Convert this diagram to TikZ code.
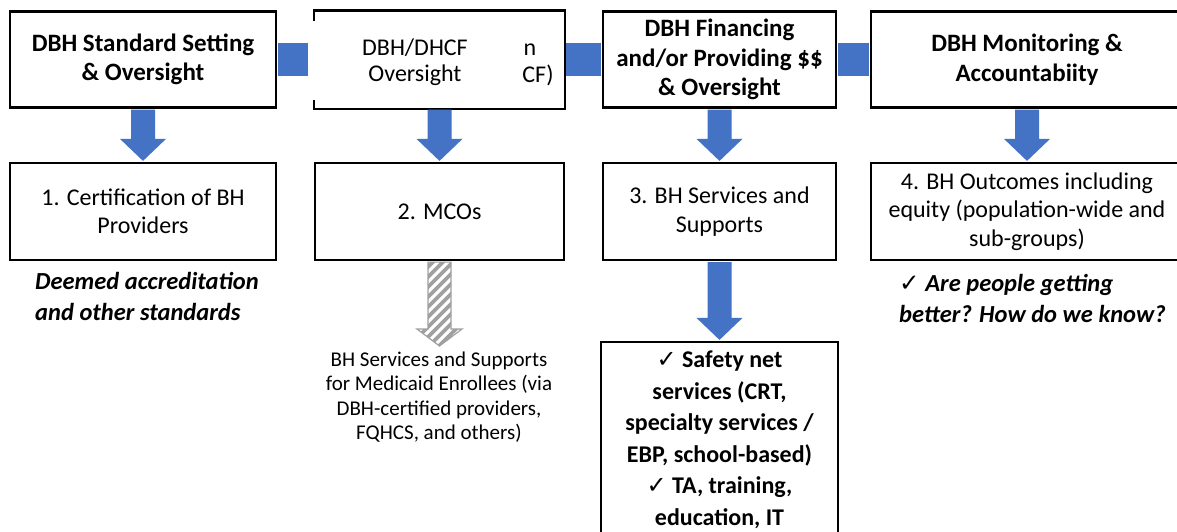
\documentclass[tikz,border=0pt]{standalone}
\usepackage{fontspec}
\setmainfont{Carlito}
\newfontfamily\dejavu{DejaVu Sans}
\usetikzlibrary{calc}
\definecolor{dbhblue}{RGB}{68,114,196}
\definecolor{hatchgray}{RGB}{160,160,160}
\newcommand{\chk}{{\dejavu ✓}}
\newcommand{\barrow}[2]{%
  \fill[dbhblue] let \p1=(#1),\p2=(#2) in
    (\x1-12pt,\y1-1pt) -- (\x1+12pt,\y1-1pt) -- (\x1+12pt,\y2+23pt) --
    (\x1+23pt,\y2+23pt) -- (\x1,\y2+1pt) -- (\x1-23pt,\y2+23pt) --
    (\x1-12pt,\y2+23pt) -- cycle;}
\newcommand{\harrowpath}[2]{let \p1=(#1),\p2=(#2) in
    (\x1-11.5pt,\y1-1pt) -- (\x1+11.5pt,\y1-1pt) -- (\x1+11.5pt,\y2+17pt) --
    (\x1+22.5pt,\y2+17pt) -- (\x1,\y2) -- (\x1-22.5pt,\y2+17pt) --
    (\x1-11.5pt,\y2+17pt) -- cycle}
\begin{document}
\begin{tikzpicture}[x=1pt,y=-1pt,
  box/.style={draw=black, line width=2.2pt, fill=white, inner sep=0pt,
    align=center, text=black},
  topbox/.style={box, minimum height=96pt, font=\fontsize{25}{29.5}\selectfont\bfseries},
  lowbox/.style={box, minimum height=97pt, font=\fontsize{24}{28.5}\selectfont},
  note/.style={inner sep=0pt, align=left, font=\fontsize{24.5}{31}\selectfont\bfseries\itshape},
  link/.style={dbhblue, line width=33pt, shorten <=1pt, shorten >=1pt}]
\useasboundingbox (0,0) rectangle (1177,531);
\fill[white] (0,0) rectangle (1177,531);

% top row
\node[topbox, minimum width=266pt] (A) at (143,59.5) {DBH Standard Setting\\\& Oversight};
\node[topbox, draw=none, minimum width=249pt] (B) at (439.5,59.5) {};
\node[topbox, minimum width=233pt] (C) at (719.5,59.5) {DBH Financing\\and/or Providing \$\$\\\& Oversight};
\node[topbox, minimum width=312pt] (D) at (1027,59.5) {DBH Monitoring \&\\Accountabiity};
\draw[line width=2.2pt] ($(B.north west)+(0,11)$) -- (B.north west) -- (B.north east)
  -- (B.south east) -- (B.south west) -- ($(B.south west)+(0,-9)$);
\node[inner sep=0pt, align=center, font=\fontsize{24}{26}\selectfont] (Btext) at (415,62) {DBH/DHCF\\Oversight};
\node[inner sep=0pt, font=\fontsize{24}{26}\selectfont] (Bn) at (530,50) {n};
\node[inner sep=0pt, font=\fontsize{24}{26}\selectfont] (Bcf) at (538,75) {CF)};

% horizontal links
\draw[link, shorten >=6pt] (A.east) -- (B.west);
\draw[link] (B.east) -- (C.west);
\draw[link] (C.east) -- (D.west);

% second row
\node[lowbox, minimum width=266pt] (one) at (143,211.5) {1. Certification of BH\\Providers};
\node[lowbox, minimum width=249pt] (two) at (439.5,211.5) {2. MCOs};
\node[lowbox, minimum width=233pt] (three) at (719.5,211.5) {3. BH Services and\\Supports};
\node[lowbox, minimum width=312pt] (four) at (1027,211.5) {4. BH Outcomes including\\equity (population-wide and\\sub-groups)};

% arrows down
\barrow{A.south}{one.north}
\barrow{B.south}{two.north}
\barrow{C.south}{three.north}
\barrow{D.south}{four.north}

% notes
\node[note, anchor=west] (n1) at (35,296) {Deemed accreditation\\and other standards};
\node[note, anchor=west] (n4) at (899,298) {\chk\ Are people getting\\better? How do we know?};

% hatched arrow from MCOs
\coordinate (mcotip) at (439.5,346);
\begin{scope}
  \clip \harrowpath{two.south}{mcotip};
  \foreach \k in {0,...,14}
    \draw[hatchgray, line width=3.6pt] (400,255+10*\k) -- (480,175+10*\k);
\end{scope}
\draw[hatchgray, line width=1.2pt, line join=miter] \harrowpath{two.south}{mcotip};
\node[inner sep=0pt, align=center, font=\fontsize{21}{24.5}\selectfont] (mcotext) at (439,397)
  {BH Services and Supports\\for Medicaid Enrollees (via\\DBH-certified providers,\\FQHCS, and others)};

% safety net box
\node[box, minimum width=237pt, minimum height=196pt, font=\fontsize{24}{31.5}\selectfont\bfseries] (safety) at (719.5,440)
  {\chk\ Safety net\\services (CRT,\\specialty services /\\EBP, school-based)\\\chk\ TA, training,\\education, IT};
\barrow{three.south}{safety.north}
\end{tikzpicture}
\end{document}
